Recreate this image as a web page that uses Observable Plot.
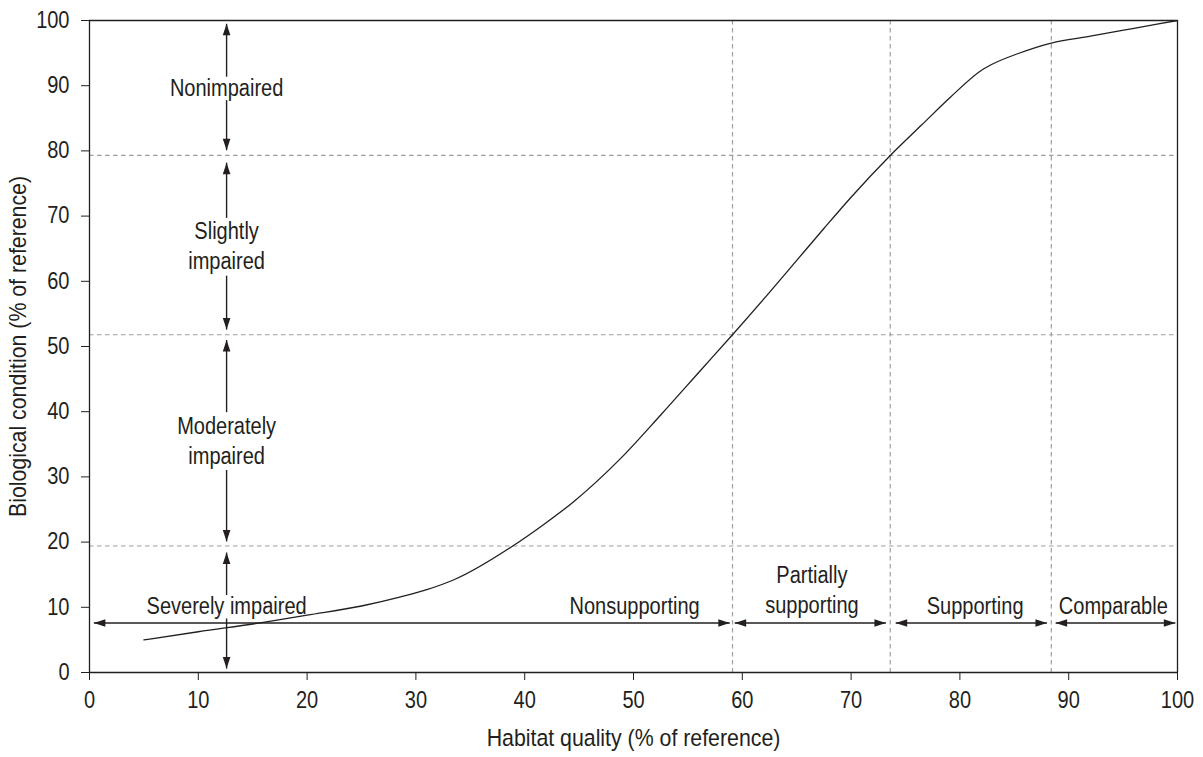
<!DOCTYPE html>
<html>
<head>
<meta charset="utf-8">
<script src="https://cdn.jsdelivr.net/npm/d3@7"></script>
<script src="https://cdn.jsdelivr.net/npm/@observablehq/plot@0.6"></script>
<style>
  html, body { margin: 0; padding: 0; background: #fff; }
</style>
</head>
<body>
<div id="chart"></div>
<script>
// ---- Data ----
const xTicks = [0, 10, 20, 30, 40, 50, 60, 70, 80, 90, 100];
const yTicks = [0, 10, 20, 30, 40, 50, 60, 70, 80, 90, 100];
const xTitle = "Habitat quality (% of reference)";
const yTitle = "Biological condition (% of reference)";

// curve
const habitat = [5, 10, 16.4, 20, 25, 28.6, 31, 33.6, 38.9, 41.5, 44.5, 48.8, 52.5, 56.2, 59.1, 62.5, 65, 67.5, 70, 73.6, 76.5, 79.1, 82.2, 83.1, 85.3, 88.3, 92, 96, 100];
const biology = [5.0, 6.25, 7.8, 8.8, 10.2, 11.6, 12.7, 14.3, 19.4, 22.4, 26.2, 32.8, 39.5, 46.4, 51.8, 58.3, 63.2, 68.1, 72.9, 79.3, 84.0, 88.2, 92.6, 93.4, 94.9, 96.5, 97.6, 98.8, 100];

// class boundaries (dashed)
const habitatBounds = [59.1, 73.6, 88.4];
const biologyBounds = [79.3, 51.8, 19.4];

// vertical (biological condition) classes
const bioClasses = ["Nonimpaired", "Slightly\nimpaired", "Moderately\nimpaired", "Severely impaired"];
const bioArrowTop = [99.5, 78.2, 51.0, 18.4];
const bioArrowBottom = [80.1, 52.6, 20.1, 0.6];
const bioLabelY = [89.9, 65.6, 35.8, 10.4];
const bioArrowX = 12.6;

// horizontal (habitat) classes
const habClasses = ["Nonsupporting", "Partially\nsupporting", "Supporting", "Comparable"];
const habArrowLeft = [0.4, 59.3, 74.1, 88.8];
const habArrowRight = [58.85, 73.2, 88.0, 99.8];
const habLabelX = [50.1, 66.4, 81.4, 94.1];
const habLabelY = [10.4, 12.9, 10.4, 10.4];
const habArrowY = 7.6;

// ---- Layout ----
const W = 1203, H = 757;
const mL = 89, mR = 26, mT = 20, mB = 85;
const FS = 23, LH = 1.3, TFS = 24.5, NARROW = 0.87;
const ink = "#231f20";
const ppu = (H - mT - mB) / 100;

const curve = habitat.map((x, i) => ({x, y: biology[i]}));

const vShafts = [];
bioClasses.forEach((lab, i) => {
  const n = lab.split("\n").length;
  const half = n * FS * LH / 2;
  const up = n === 1 ? FS * 0.42 : half - 3;
  const down = n === 1 ? FS * 0.6 : half + 1;
  vShafts.push({y1: bioArrowTop[i], y2: bioLabelY[i] + up / ppu});
  vShafts.push({y1: bioLabelY[i] - down / ppu, y2: bioArrowBottom[i]});
});
const vLabels = bioClasses.map((t, i) => ({t, x: bioArrowX, y: bioLabelY[i]}));
const hLabels = habClasses.map((t, i) => ({t, x: habLabelX[i], y: habLabelY[i]}));
const hArrows = habClasses.map((t, i) => ({x1: habArrowLeft[i], x2: habArrowRight[i], y: habArrowY}));

const HL = 11.5, HW = 3.8;
const upHead = {draw(c) { c.moveTo(0, 0); c.lineTo(HW, HL); c.lineTo(-HW, HL); c.closePath(); }};
const downHead = {draw(c) { c.moveTo(0, 0); c.lineTo(HW, -HL); c.lineTo(-HW, -HL); c.closePath(); }};
const leftHead = {draw(c) { c.moveTo(0, 0); c.lineTo(HL, -HW); c.lineTo(HL, HW); c.closePath(); }};
const rightHead = {draw(c) { c.moveTo(0, 0); c.lineTo(-HL, -HW); c.lineTo(-HL, HW); c.closePath(); }};

const dashStyle = {stroke: "#9f9f9f", strokeWidth: 1.2, strokeDasharray: "4.5,3.5"};

const chart = Plot.plot({
  width: W, height: H,
  marginLeft: mL, marginRight: mR, marginTop: mT, marginBottom: mB,
  style: {fontFamily: "'Liberation Sans Narrow', 'Arial Narrow', 'Liberation Sans', Arial, sans-serif", fontSize: FS + "px", color: ink, background: "#fff", overflow: "visible"},
  x: {domain: [0, 100], ticks: xTicks, tickSize: 8, tickPadding: 11, label: null, tickFormat: d => String(d)},
  y: {domain: [0, 100], ticks: yTicks, tickSize: 8, tickPadding: 12, label: null, tickFormat: d => String(d)},
  marks: [
    Plot.ruleX(habitatBounds, dashStyle),
    Plot.ruleY(biologyBounds, dashStyle),
    Plot.ruleX([0, 100], {stroke: ink, strokeWidth: 1.3}),
    Plot.ruleY([0, 100], {stroke: ink, strokeWidth: 1.3}),
    // vertical shafts
    Plot.link(vShafts, {x1: () => bioArrowX, x2: () => bioArrowX, y1: "y1", y2: "y2", stroke: ink, strokeWidth: 1.4}),
    Plot.text(vLabels, {x: "x", y: "y", text: "t", lineHeight: LH, fill: ink, fontSize: FS}),
    Plot.text(hLabels, {x: "x", y: "y", text: "t", lineHeight: LH, fill: ink, fontSize: FS}),
    // curve
    Plot.line(curve, {x: "x", y: "y", curve: "monotone-x", stroke: ink, strokeWidth: 1.3}),
    // horizontal shafts
    Plot.link(hArrows, {x1: "x1", x2: "x2", y1: "y", y2: "y", stroke: ink, strokeWidth: 1.4}),
    // heads
    Plot.dot(bioArrowTop, {x: () => bioArrowX, y: d => d, symbol: upHead, fill: ink, stroke: "none", r: 5}),
    Plot.dot(bioArrowBottom, {x: () => bioArrowX, y: d => d, symbol: downHead, fill: ink, stroke: "none", r: 5}),
    Plot.dot(hArrows, {x: "x1", y: "y", symbol: leftHead, fill: ink, stroke: "none", r: 5}),
    Plot.dot(hArrows, {x: "x2", y: "y", symbol: rightHead, fill: ink, stroke: "none", r: 5}),
    // axis titles
    Plot.text([xTitle], {frameAnchor: "bottom", dy: 73, textAnchor: "middle", text: d => d, fill: ink, fontSize: TFS}),
    Plot.text([yTitle], {frameAnchor: "left", dx: -71, rotate: -90, textAnchor: "middle", text: d => d, fill: ink, fontSize: TFS})
  ]
});
document.getElementById("chart").appendChild(chart);

// condense the lettering horizontally (narrow face is not installed), keeping text as text
chart.querySelectorAll("text").forEach(el => {
  const b = el.getBBox();
  const anchor = getComputedStyle(el).textAnchor;
  const ax = anchor === "middle" ? b.x + b.width / 2 : anchor === "end" ? b.x + b.width : b.x;
  const prev = el.getAttribute("transform") || "";
  el.setAttribute("transform", `${prev} translate(${ax},0) scale(${NARROW},1) translate(${-ax},0)`.trim());
});
</script>
</body>
</html>
